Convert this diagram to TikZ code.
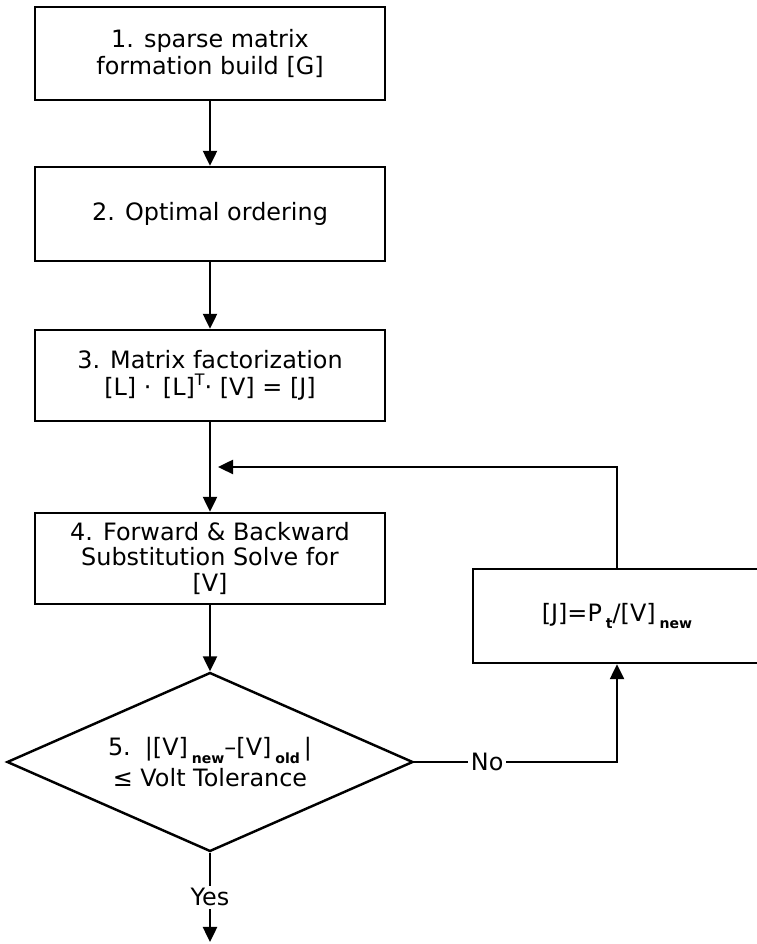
\documentclass[tikz,border=0pt]{standalone}
\usepackage{fontspec}
\setmainfont{DejaVu Sans}
\usetikzlibrary{arrows.meta,positioning,calc,shapes.geometric}
\usepackage{xcolor}
\definecolor{Ink}{HTML}{000000}
\newcommand{\lowtxt}[1]{\raisebox{-0.6ex}{\footnotesize\bfseries #1}}
\newcommand{\hightxt}[1]{\raisebox{0.75ex}{\small #1}}

\begin{document}
\begin{tikzpicture}[x=1cm,y=1cm,>={Triangle[length=0.30cm,width=0.28cm]},
  procbox/.style={draw=Ink,line width=1.4pt,minimum width=7.00cm,minimum height=1.86cm,
    align=center,inner sep=2pt,font=\fontsize{13.6}{15.5}\selectfont},
  testbox/.style={diamond,draw=Ink,line width=1.4pt,minimum width=8.12cm,minimum height=3.58cm,
    aspect=2.27,align=center,inner sep=0pt,font=\fontsize{13.6}{17.5}\selectfont},
  flow/.style={Ink,line width=1.4pt},
  tag/.style={fill=white,inner sep=1.5pt,font=\fontsize{13.6}{15}\selectfont}]
\useasboundingbox (0,0) rectangle (15.12,18.88);
% main column
\node[procbox] (sparse) at (4.20,17.81) {1. sparse matrix\\formation build [G]};
\node[procbox,minimum height=1.88cm] (order) at (4.20,14.60) {2. Optimal ordering};
\node[procbox,minimum height=1.82cm] (factor) at (4.20,11.37) {3. Matrix factorization\\{}[L] · \,[L]\hightxt{T}· [V] = [J]};
\node[procbox,minimum height=1.82cm,font=\fontsize{13.6}{14.5}\selectfont] (solve) at (4.20,7.71) {4. Forward \& Backward\\Substitution Solve for\\{}[V]};
\node[testbox] (check) at (4.20,3.64) {5. \,|[V]\,\lowtxt{new}–[V]\,\lowtxt{old}\,|\\≤ Volt Tolerance};
% update box on the right
\node[procbox,minimum width=5.76cm,minimum height=1.88cm] (update) at (12.34,6.56) {[J]=P\,\lowtxt{t}/[V]\,\lowtxt{new}};
\coordinate (loopin) at (4.36,9.54);
\coordinate (out) at (4.20,0.04);
% connectors
\draw[flow,->] (sparse) -- (order);
\draw[flow,->] (order) -- (factor);
\draw[flow,->] (factor) -- (solve);
\draw[flow,->] (solve) -- (check);
\draw[flow,->] (update.north) |- (loopin);
\draw[flow,->] (check.east) -| node[tag,pos=0.18] {No} (update.south);
\draw[flow,->] (check.south) -- node[tag,pos=0.5] {Yes} (out);
\end{tikzpicture}
\end{document}
